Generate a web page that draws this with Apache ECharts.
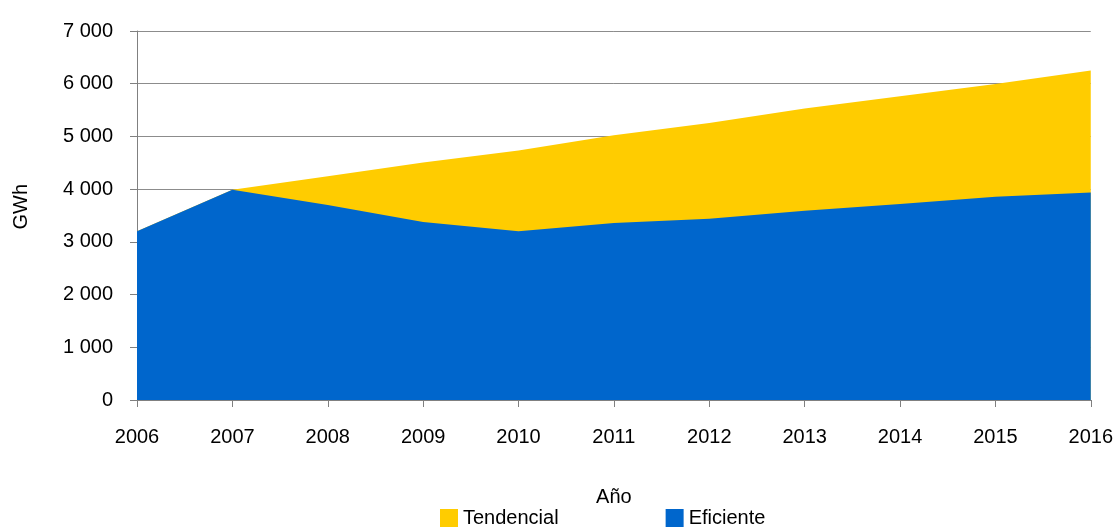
<!DOCTYPE html>
<html>
<head>
<meta charset="utf-8">
<script src="https://cdn.jsdelivr.net/npm/echarts@6/dist/echarts.min.js"></script>
<style>
  html, body { margin: 0; padding: 0; background: #fff; }
  #chart { width: 1116px; height: 527px; }
</style>
</head>
<body>
<div id="chart"></div>
<script>
// años y valores (GWh)
const years = ['2006', '2007', '2008', '2009', '2010', '2011', '2012', '2013', '2014', '2015', '2016']
const tendencial = [3200, 3990, 4245, 4505, 4735, 5020, 5255, 5530, 5760, 5995, 6250]
const eficiente = [3200, 3990, 3700, 3375, 3200, 3360, 3440, 3590, 3720, 3855, 3935]

const FONT = 'Liberation Sans, Arial, sans-serif'
const chart = echarts.init(document.getElementById('chart'), null, { renderer: 'canvas' })

chart.setOption({
  backgroundColor: '#fff',
  animation: false,
  textStyle: { fontFamily: FONT },
  grid: { left: 137, right: 22, top: 31, bottom: 127, containLabel: false },
  legend: {
    left: 440,
    top: 508,
    padding: 0,
    icon: 'rect',
    itemWidth: 18,
    itemHeight: 18,
    itemGap: 107,
    textStyle: { fontSize: 20, color: '#000', fontFamily: FONT },
    data: ['Tendencial', 'Eficiente']
  },
  graphic: [{
    type: 'text',
    left: 11,
    top: 184,
    rotation: Math.PI / 2,
    style: { text: 'GWh', fontSize: 20, fill: '#000', font: '20px ' + FONT }
  }],
  xAxis: {
    type: 'category',
    data: years,
    boundaryGap: false,
    name: 'Año',
    nameLocation: 'middle',
    nameGap: 87,
    nameTextStyle: { fontSize: 20, color: '#000' },
    axisLine: { lineStyle: { color: '#808080', width: 1 } },
    axisTick: { show: true, length: 7, lineStyle: { color: '#808080' } },
    axisLabel: { fontSize: 20, color: '#000', margin: 27 },
    splitLine: { show: false }
  },
  yAxis: {
    type: 'value',
    min: 0,
    max: 7000,
    interval: 1000,
    axisLine: { show: true, lineStyle: { color: '#808080', width: 1 } },
    axisTick: { show: true, length: 7, lineStyle: { color: '#808080' } },
    axisLabel: {
      fontSize: 20,
      color: '#000',
      margin: 24,
      padding: [0, 0, 7, 0],
      formatter: v => v === 0 ? '0' : String(v).replace(/\B(?=(\d{3})+(?!\d))/g, ' ')
    },
    splitLine: { show: true, lineStyle: { color: '#8c8c8c', width: 1 } }
  },
  series: [
    {
      name: 'Tendencial',
      type: 'line',
      data: tendencial,
      showSymbol: false,
      symbol: 'none',
      lineStyle: { width: 0 },
      itemStyle: { color: '#FFCC00' },
      areaStyle: { color: '#FFCC00', opacity: 1 },
      z: 2
    },
    {
      name: 'Eficiente',
      type: 'line',
      data: eficiente,
      showSymbol: false,
      symbol: 'none',
      lineStyle: { width: 0 },
      itemStyle: { color: '#0066CC' },
      areaStyle: { color: '#0066CC', opacity: 1 },
      z: 3
    }
  ]
})
</script>
</body>
</html>
